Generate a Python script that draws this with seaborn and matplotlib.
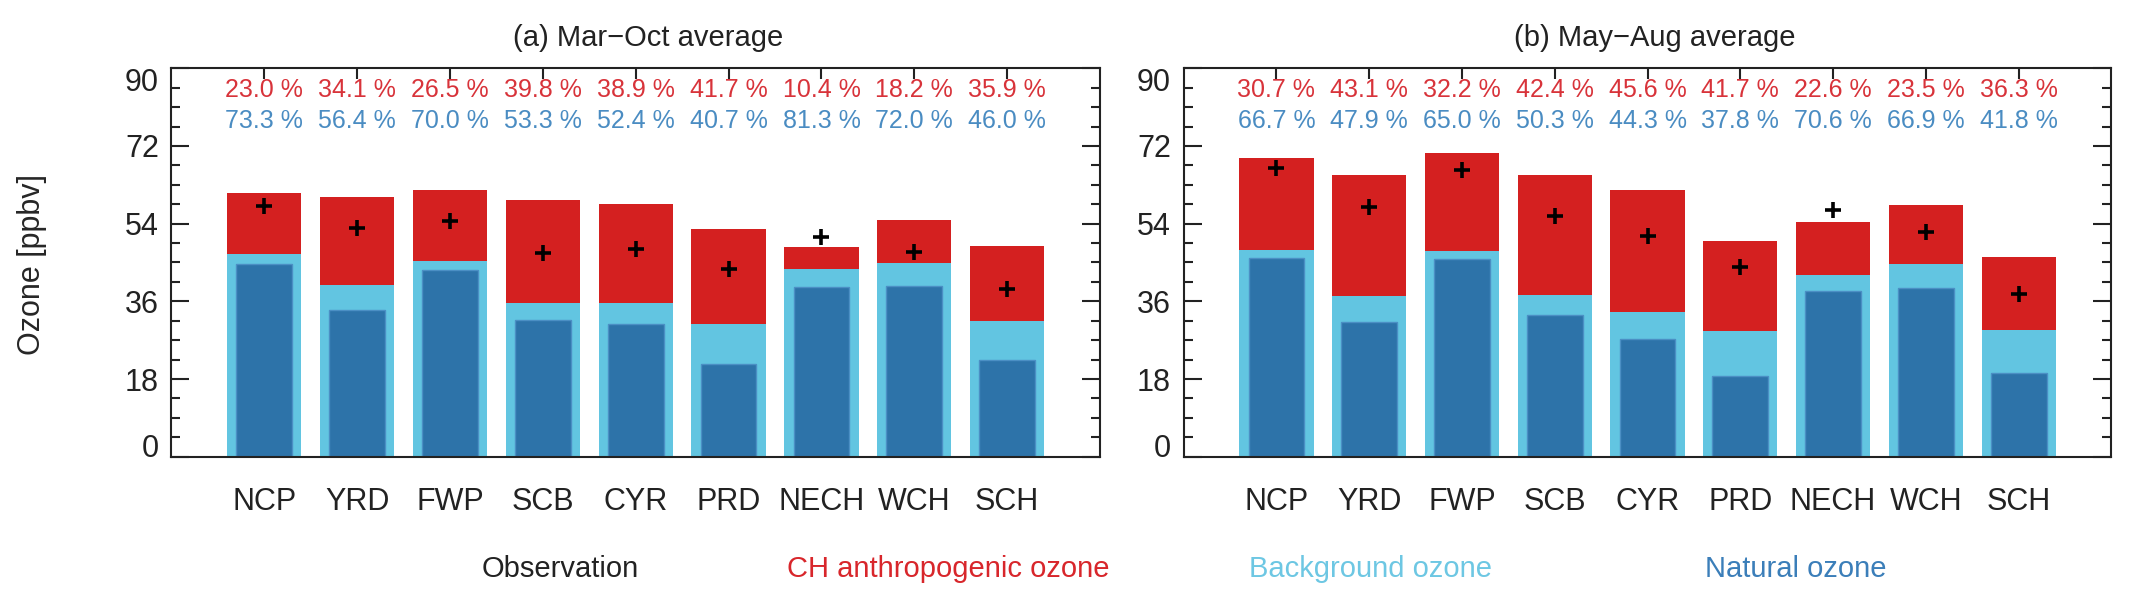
import numpy as np
import matplotlib
matplotlib.use("Agg")
import matplotlib.pyplot as plt
from matplotlib.ticker import MultipleLocator
import seaborn as sns

# --- data (ppbv) ---
regions = ["NCP", "YRD", "FWP", "SCB", "CYR", "PRD", "NECH", "WCH", "SCH"]

# (a) Mar-Oct average
total_a = [61.0, 60.2, 61.8, 59.4, 58.5, 52.7, 48.5, 54.8, 48.9]
background_a = [46.9, 39.7, 45.4, 35.7, 35.7, 30.7, 43.4, 44.8, 31.4]
natural_a = [44.7, 33.9, 43.3, 31.7, 30.7, 21.5, 39.4, 39.5, 22.5]
obs_a = [58.2, 53.1, 54.7, 47.3, 48.1, 43.6, 50.8, 47.5, 38.8]
anthro_pct_a = [23.0, 34.1, 26.5, 39.8, 38.9, 41.7, 10.4, 18.2, 35.9]
natural_pct_a = [73.3, 56.4, 70.0, 53.3, 52.4, 40.7, 81.3, 72.0, 46.0]

# (b) May-Aug average
total_b = [69.1, 65.3, 70.4, 65.2, 61.7, 50.0, 54.3, 58.3, 46.3]
background_b = [47.9, 37.2, 47.7, 37.5, 33.6, 29.1, 42.0, 44.6, 29.4]
natural_b = [46.1, 31.2, 45.7, 32.8, 27.3, 18.8, 38.3, 39.0, 19.4]
obs_b = [66.8, 57.8, 66.4, 55.8, 51.2, 44.0, 57.2, 52.0, 37.8]
anthro_pct_b = [30.7, 43.1, 32.2, 42.4, 45.6, 41.7, 22.6, 23.5, 36.3]
natural_pct_b = [66.7, 47.9, 65.0, 50.3, 44.3, 37.8, 70.6, 66.9, 41.8]

# colours
RED = "#D42020"
LIGHT = "#62C5E1"
DARK = "#2D73A9"
RED_TXT = "#D8333A"
BLUE_TXT = "#4A8CC2"
INK = "#222222"

sns.set_style("ticks")
plt.rcParams["font.family"] = ["Liberation Sans", "DejaVu Sans"]
plt.rcParams["text.color"] = INK
plt.rcParams["axes.edgecolor"] = INK
plt.rcParams["xtick.color"] = INK
plt.rcParams["ytick.color"] = INK


def draw_panel(ax, title, title_x, total, background, natural, obs, pct_a, pct_n):
    ax.set_axisbelow(True)
    sns.barplot(x=regions, y=total, color=RED, width=0.8, saturation=1,
                linewidth=0, ax=ax)
    sns.barplot(x=regions, y=background, color=LIGHT, width=0.8, saturation=1,
                linewidth=0, ax=ax)
    sns.barplot(x=regions, y=natural, color=DARK, width=0.6, saturation=1,
                edgecolor="#4B8FC4", linewidth=1.0, ax=ax)
    sns.pointplot(x=regions, y=obs, color="black", markers="+", linestyle="none",
                  errorbar=None, markersize=11, markeredgewidth=2.6, ax=ax)

    for i, (pa, pn) in enumerate(zip(pct_a, pct_n)):
        ax.text(i, 85.0, f"{pa:.1f} %", ha="center", va="center",
                fontsize=18, color=RED_TXT)
        ax.text(i, 77.7, f"{pn:.1f} %", ha="center", va="center",
                fontsize=18, color=BLUE_TXT)

    ax.set_xlim(-1, 9)
    ax.set_ylim(0, 90)
    ax.set_yticks([0, 18, 36, 54, 72, 90])
    ax.yaxis.set_minor_locator(MultipleLocator(4.5))
    ax.tick_params(axis="y", which="major", direction="in", length=13, width=1.5,
                   left=True, right=True, labelsize=22, pad=9)
    ax.tick_params(axis="y", which="minor", direction="in", length=6.5, width=1.5,
                   left=True, right=True)
    ax.tick_params(axis="x", which="major", direction="in", top=True, bottom=False,
                   length=8, width=1.5, labelsize=22, pad=22)
    ticks = ax.yaxis.get_major_ticks()
    ticks[0].label1.set_verticalalignment("baseline")
    ticks[-1].label1.set_verticalalignment("top")

    for sp in ax.spines.values():
        sp.set_visible(True)
        sp.set_linewidth(1.5)
    ax.set_xlabel("")
    ax.set_ylabel("")
    ax.set_title(title, fontsize=21, pad=16, x=title_x)


fig = plt.figure(figsize=(21.38, 6.07), dpi=100)
ax_a = fig.add_axes([0.0802, 0.2476, 0.4343, 0.6399])
ax_b = fig.add_axes([0.5536, 0.2476, 0.4340, 0.6399])

draw_panel(ax_a, "(a) Mar\u2212Oct average", 0.513, total_a, background_a,
           natural_a, obs_a, anthro_pct_a, natural_pct_a)
draw_panel(ax_b, "(b) May\u2212Aug average", 0.508, total_b, background_b,
           natural_b, obs_b, anthro_pct_b, natural_pct_b)

ax_a.set_ylabel("Ozone [ppbv]", fontsize=22)
ax_a.yaxis.set_label_coords(-0.134, 0.496)

# colour-coded legend row
legend_items = [
    ("Observation", INK, 0.2253),
    ("CH anthropogenic ozone", "#D8262B", 0.3680),
    ("Background ozone", "#6DC7E3", 0.5843),
    ("Natural ozone", "#3B7EB9", 0.7975),
]
for label, col, xpos in legend_items:
    fig.text(xpos, 0.050, label, ha="left", va="baseline", fontsize=21, color=col)

fig.savefig("out.png", dpi=100)
